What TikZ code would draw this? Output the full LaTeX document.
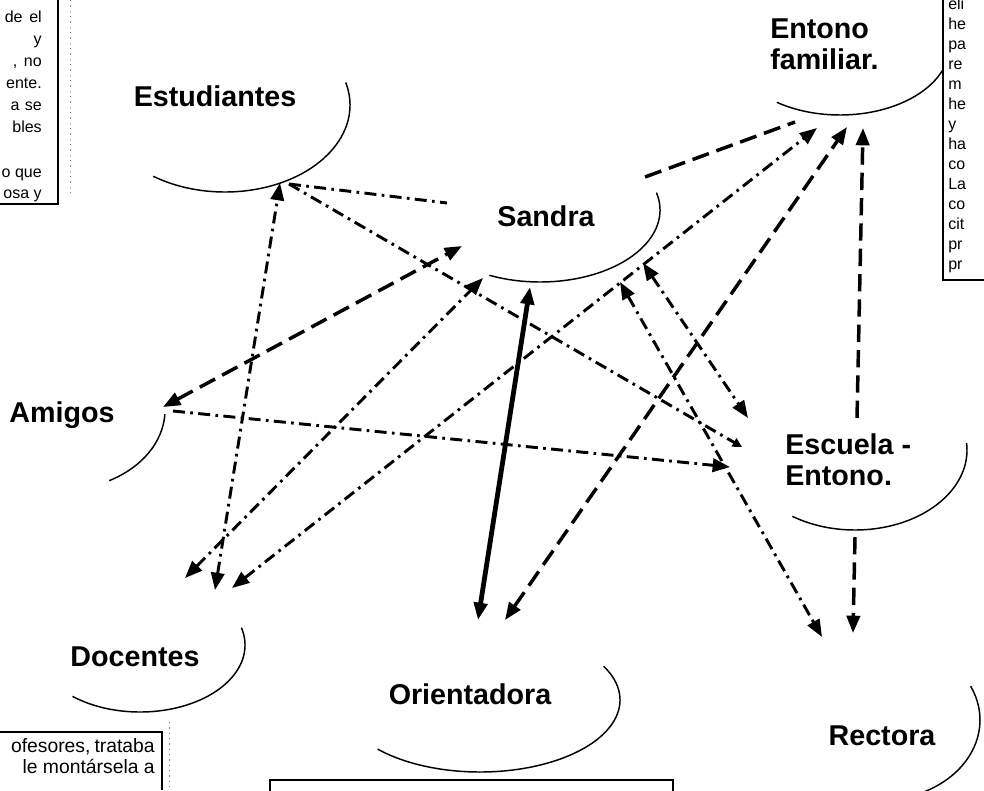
\documentclass[tikz,border=0pt]{standalone}
\usepackage{fontspec}
\setmainfont{Liberation Sans}
\usetikzlibrary{arrows.meta}
\begin{document}
\begin{tikzpicture}[x=0.75pt,y=-0.75pt,
  lbl/.style={font=\bfseries\fontsize{21.5}{23}\selectfont,inner sep=0pt,align=left},
  boxtxt/.style={font=\fontsize{12}{13}\selectfont,inner sep=0pt},
  boxtxtb/.style={font=\fontsize{14.5}{15}\selectfont,inner sep=0pt},
  ell/.style={line width=1.1pt},
  frm/.style={line width=1.2pt},
  scan/.style={line width=0.6pt,gray,dash pattern=on 1pt off 3pt},
  dsh/.style={line width=2.6pt,dash pattern=on 13pt off 6pt},
  dd/.style={line width=2.2pt,dash pattern=on 9pt off 4pt on 2pt off 4pt},
  heavy/.style={line width=3.6pt},
  aone/.style={-{Triangle[length=13pt,width=10pt]}},
  atwo/.style={{Triangle[length=13pt,width=10pt]}-{Triangle[length=13pt,width=10pt]}},
  asmall/.style={-{Triangle[length=7pt,width=7pt]}}
]
\useasboundingbox (0,0) rectangle (984,790);
\fill[white] (0,0) rectangle (984,790);
\begin{scope}
\clip (0,0) rectangle (984,790);

% ---------- labels ----------
\node[lbl] (est) at (215,96) {Estudiantes};
\node[lbl] (san) at (546,216) {Sandra};
\node[lbl,anchor=west] (fam) at (770,44) {Entono\\familiar.};
\node[lbl] (ami) at (62,415) {Amigos};
\node[lbl,anchor=west] (esc) at (785,460) {Escuela -\\Entono.};
\node[lbl] (doc) at (135,657) {Docentes};
\node[lbl] (ori) at (470,694) {Orientadora};
\node[lbl] (rec) at (882,736) {Rectora};

% ---------- partial ellipses ----------
\draw[ell] (225,105) ++(-15:125 and 87) arc[start angle=-15,end angle=125,x radius=125,y radius=87];
\draw[ell] (540,210) ++(-14:120 and 72) arc[start angle=-14,end angle=115,x radius=120,y radius=72];
\draw[ell] (840,45) ++(21:110 and 70) arc[start angle=21,end angle=125,x radius=110,y radius=70];
\draw[ell] (60,410) ++(3:105 and 80) arc[start angle=3,end angle=62,x radius=105,y radius=80];
\draw[ell] (855,450) ++(-5:112 and 80) arc[start angle=-5,end angle=124,x radius=112,y radius=80];
\draw[ell] (140,645) ++(-15:105 and 67) arc[start angle=-15,end angle=130,x radius=105,y radius=67];
\draw[ell] (480,700) ++(-28:140 and 72) arc[start angle=-28,end angle=137,x radius=140,y radius=72];
\draw[ell] (880,720) ++(-25:100 and 80) arc[start angle=-25,end angle=75,x radius=100,y radius=80];

% ---------- connector end points ----------
\coordinate (estH) at (280,183);
\coordinate (estH2) at (289,184);
\coordinate (sanL) at (447,203);
\coordinate (sanA) at (462,246);
\coordinate (sanD) at (483,278);
\coordinate (sanO) at (530,287);
\coordinate (sanR) at (620,282);
\coordinate (sanE) at (643,263);
\coordinate (sanF) at (645,177);
\coordinate (famS) at (795,122);
\coordinate (famD) at (817,128);
\coordinate (famO) at (847,127);
\coordinate (famE) at (863,128);
\coordinate (escT) at (857,418);
\coordinate (escB) at (855,537);
\coordinate (escS) at (748,418);
\coordinate (escU) at (742,447);
\coordinate (escA) at (730,467);
\coordinate (recS) at (822,637);
\coordinate (recE) at (853,633);
\coordinate (docS) at (185,578);
\coordinate (docU) at (215,590);
\coordinate (docF) at (232,588);
\coordinate (oriS) at (478,620);
\coordinate (oriF) at (505,620);
\coordinate (amiS) at (163,407);
\coordinate (amiE) at (173,411);

% ---------- connectors ----------
\draw[dd,atwo] (docU) -- (estH);
\draw[dd] (estH2) -- (sanL);
\draw[dd,asmall] (estH2) -- (escU);
\draw[dsh,atwo] (amiS) -- (sanA);
\draw[dd,aone] (amiE) -- (escA);
\draw[dd,atwo] (docS) -- (sanD);
\draw[dd,atwo] (docF) -- (famD);
\draw[heavy,atwo] (oriS) -- (sanO);
\draw[dsh,atwo] (oriF) -- (famO);
\draw[dd,atwo] (sanR) -- (recS);
\draw[dd,atwo] (sanE) -- (escS);
\draw[dsh] (sanF) -- (famS);
\draw[dsh,aone] (escT) -- (famE);
\draw[dsh,aone] (escB) -- (recE);

% ---------- cut text boxes ----------
% top left
\draw[frm] (58,0) -- (58,204) -- (0,204);
\draw[scan] (70,0) -- (70,196);
\node[boxtxt,anchor=base east] (tl1) at (42,22) {de\hspace{5pt}el};
\node[boxtxt,anchor=base east] (tl2) at (42,44) {y};
\node[boxtxt,anchor=base east] (tl3) at (42,66) {,\hspace{5pt}no};
\node[boxtxt,anchor=base east] (tl4) at (42,88) {ente.};
\node[boxtxt,anchor=base east] (tl5) at (42,110) {a\hspace{4pt}se};
\node[boxtxt,anchor=base east] (tl6) at (42,132) {bles};
\node[boxtxt,anchor=base east] (tl7) at (42,177) {o que};
\node[boxtxt,anchor=base east] (tl8) at (42,198) {osa y};

% top right
\draw[frm] (943,0) -- (943,280) -- (984,280);
\foreach \t [count=\i from 0] in {eli,he,pa,re,m,he,y,ha,co,La,co,cit,pr,pr}
  \node[boxtxt,anchor=base west] (tr\i) at (948,9+20*\i) {\t};

% bottom left
\draw[frm] (0,732) -- (162,732) -- (162,790);
\draw[scan] (169,722) -- (169,790);
\node[boxtxtb,anchor=base east] (bl1) at (155,752) {ofesores,\hspace{3pt}trataba};
\node[boxtxtb,anchor=base east] (bl2) at (155,773) {le\hspace{4pt}montársela\hspace{4pt}a};

% bottom centre
\draw[frm] (270,800) -- (270,780) -- (673,780) -- (673,800);
\end{scope}
\end{tikzpicture}
\end{document}
